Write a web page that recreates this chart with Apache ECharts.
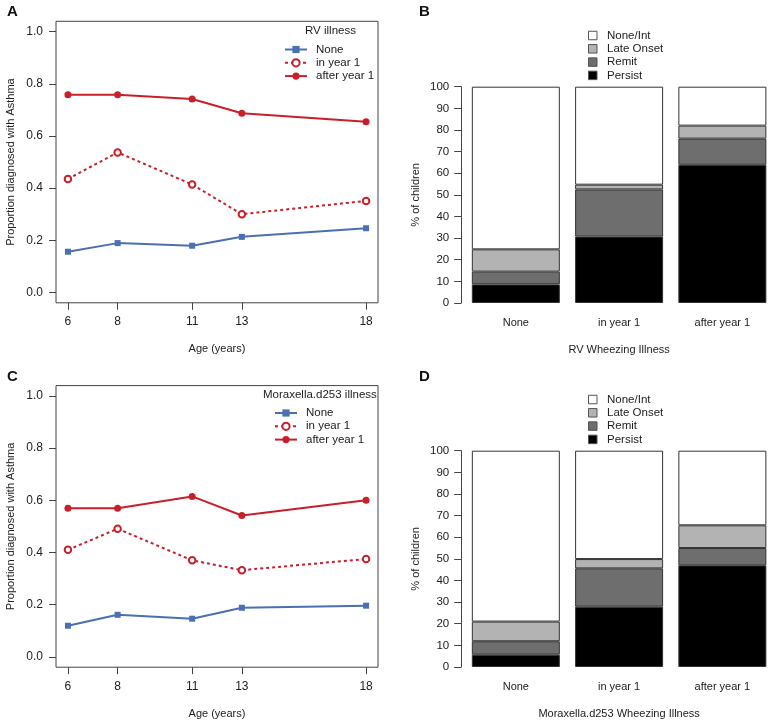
<!DOCTYPE html>
<html>
<head>
<meta charset="utf-8">
<script src="https://cdn.jsdelivr.net/npm/echarts@6/dist/echarts.min.js"></script>
<style>
  html, body { margin: 0; padding: 0; background: #fff; }
  #main { width: 774px; height: 723px; }
</style>
</head>
<body>
<div id="main"></div>
<script>
// ages of follow-up (panels A, C)
var ages = [6, 8, 11, 13, 18];

// panel A: RV illness
var rvNone = [0.156, 0.189, 0.179, 0.213, 0.246];
var rvInYear1 = [0.435, 0.537, 0.414, 0.300, 0.351];
var rvAfterYear1 = [0.758, 0.758, 0.742, 0.687, 0.655];

// panel C: Moraxella.d253 illness
var mxNone = [0.119, 0.161, 0.146, 0.188, 0.196];
var mxInYear1 = [0.410, 0.491, 0.370, 0.332, 0.375];
var mxAfterYear1 = [0.570, 0.570, 0.615, 0.542, 0.600];

// panels B, D: % of children by wheeze phenotype
var groups = ["None", "in year 1", "after year 1"];
var rvPersist = [8.6, 30.7, 63.9];
var rvRemit = [5.9, 21.8, 12.1];
var rvLate = [10.3, 2.2, 6.0];
var rvNoneInt = [75.2, 45.3, 18.0];

var mxPersist = [5.7, 27.9, 47.0];
var mxRemit = [6.2, 17.7, 8.0];
var mxLate = [9.1, 4.3, 10.5];
var mxNoneInt = [79.0, 50.1, 34.5];

var yTicks = [0, 0.2, 0.4, 0.6, 0.8, 1.0];
var font = "'Liberation Sans', Arial, sans-serif";
var ink = "#222";
var axisCol = "#444";
var blue = "#4a6fb3";
var red = "#c8202a";

function pairs(y){
  var out = [];
  for(var i = 0; i < ages.length; i++){
    out.push([ages[i], y[i]]);
  }
  return out;
}

function lineX(idx, nameGap){
  return {
    gridIndex: idx, type: "value", min: 5.52, max: 18.48,
    name: "Age (years)", nameLocation: "middle", nameGap: nameGap,
    nameTextStyle: { fontFamily: font, fontSize: 11, color: ink },
    axisLine: { show: false, onZero: false },
    axisTick: { show: true, length: 7, customValues: ages, lineStyle: { color: axisCol } },
    axisLabel: { customValues: ages, margin: 13, fontFamily: font, fontSize: 12, color: ink },
    splitLine: { show: false }
  };
}

function lineY(idx){
  return {
    gridIndex: idx, type: "value", min: -0.04, max: 1.04,
    name: "Proportion diagnosed with Asthma", nameLocation: "middle", nameGap: 40,
    nameTextStyle: { fontFamily: font, fontSize: 11, color: ink },
    axisLine: { show: false, onZero: false },
    axisTick: { show: true, length: 7, customValues: yTicks, lineStyle: { color: axisCol } },
    axisLabel: { customValues: yTicks, margin: 13, fontFamily: font, fontSize: 12, color: ink,
      formatter: function(v){ return v.toFixed(1); } },
    splitLine: { show: false }
  };
}

function barX(idx, name){
  return {
    gridIndex: idx, type: "category", data: groups,
    name: name, nameLocation: "middle", nameGap: 41,
    nameTextStyle: { fontFamily: font, fontSize: 11, color: ink },
    axisLine: { show: false }, axisTick: { show: false },
    axisLabel: { margin: 14, fontFamily: font, fontSize: 11, color: ink }
  };
}

function barY(idx){
  return {
    gridIndex: idx, type: "value", min: 0, max: 100, interval: 10, offset: 3,
    name: "% of children", nameLocation: "middle", nameGap: 40,
    nameTextStyle: { fontFamily: font, fontSize: 11, color: ink },
    axisLine: { show: true, lineStyle: { color: axisCol } },
    axisTick: { show: true, length: 7, lineStyle: { color: axisCol } },
    axisLabel: { margin: 12, fontFamily: font, fontSize: 11.5, color: ink },
    splitLine: { show: false }
  };
}

function lineSeries(idx, name, data, kind){
  var s = {
    name: name, type: "line", xAxisIndex: idx, yAxisIndex: idx,
    data: pairs(data), symbolSize: 7, silent: true, animation: false
  };
  if(kind == "none"){
    s.symbol = "rect"; s.symbolSize = 6;
    s.lineStyle = { color: blue, width: 2 };
    s.itemStyle = { color: blue };
  } else if(kind == "in"){
    s.symbol = "emptyCircle"; s.symbolSize = 6.5;
    s.lineStyle = { color: red, width: 2, type: [3, 3] };
    s.itemStyle = { color: red, borderWidth: 1.3 };
  } else {
    s.symbol = "circle";
    s.lineStyle = { color: red, width: 2 };
    s.itemStyle = { color: red };
  }
  return s;
}

var barColors = { "Persist": "#000000", "Remit": "#6e6e6e", "Late Onset": "#b3b3b3", "None/Int": "#ffffff" };

function barSeries(idx, name, data){
  return {
    name: name, type: "bar", stack: "s" + idx, xAxisIndex: idx, yAxisIndex: idx,
    data: data, barWidth: 88, silent: true, animation: false,
    itemStyle: { color: barColors[name], borderColor: "#333", borderWidth: 1 }
  };
}

function lineLegend(left, top){
  return {
    data: ["None", "in year 1", "after year 1"], orient: "vertical",
    left: left, top: top, itemWidth: 22, itemHeight: 9, itemGap: 0.3,
    selectedMode: false, padding: 0,
    textStyle: { fontFamily: font, fontSize: 11.5, lineHeight: 13, color: ink, padding: [0, 0, 0, 4] }
  };
}

function barLegend(top){
  return {
    data: ["None/Int", "Late Onset", "Remit", "Persist"], orient: "vertical",
    left: 588, top: top, itemWidth: 8.5, itemHeight: 8.5, itemGap: 0.3, icon: "rect",
    selectedMode: false, padding: 0,
    itemStyle: { borderColor: "#555", borderWidth: 1 },
    textStyle: { fontFamily: font, fontSize: 11.5, lineHeight: 13, color: ink, padding: [0, 0, 0, 5] }
  };
}

function letter(t, x, y){
  return { type: "text", left: x, top: y,
    style: { text: t, fontFamily: font, fontSize: 15, fontWeight: "bold", fill: "#111" } };
}

var chart = echarts.init(document.getElementById("main"));

chart.setOption({
  backgroundColor: "#fff",
  animation: false,
  grid: [
    { left: 56, top: 21.3, width: 322, height: 281.5, show: true, borderColor: axisCol, borderWidth: 1, backgroundColor: "transparent" },
    { left: 464.2, top: 86.7, width: 315.6, height: 216.3 },
    { left: 56, top: 385.6, width: 322, height: 281.6, show: true, borderColor: axisCol, borderWidth: 1, backgroundColor: "transparent" },
    { left: 464.2, top: 450.7, width: 315.6, height: 216.3 }
  ],
  xAxis: [ lineX(0, 41), barX(1, "RV Wheezing Illness"), lineX(2, 41), barX(3, "Moraxella.d253 Wheezing Illness") ],
  yAxis: [ lineY(0), barY(1), lineY(2), barY(3) ],
  legend: [ lineLegend(284, 43), barLegend(29), lineLegend(274, 406.5), barLegend(393) ],
  graphic: [
    letter("A", 7, 4), letter("B", 419, 4), letter("C", 7, 369), letter("D", 419, 369),
    { type: "text", left: 305, top: 25, style: { text: "RV illness", fontFamily: font, fontSize: 11.5, fill: ink } },
    { type: "text", left: 263, top: 389, style: { text: "Moraxella.d253 illness", fontFamily: font, fontSize: 11.5, fill: ink } }
  ],
  series: [
    lineSeries(0, "None", rvNone, "none"),
    lineSeries(0, "in year 1", rvInYear1, "in"),
    lineSeries(0, "after year 1", rvAfterYear1, "after"),
    barSeries(1, "Persist", rvPersist),
    barSeries(1, "Remit", rvRemit),
    barSeries(1, "Late Onset", rvLate),
    barSeries(1, "None/Int", rvNoneInt),
    lineSeries(2, "None", mxNone, "none"),
    lineSeries(2, "in year 1", mxInYear1, "in"),
    lineSeries(2, "after year 1", mxAfterYear1, "after"),
    barSeries(3, "Persist", mxPersist),
    barSeries(3, "Remit", mxRemit),
    barSeries(3, "Late Onset", mxLate),
    barSeries(3, "None/Int", mxNoneInt)
  ]
});
</script>
</body>
</html>
